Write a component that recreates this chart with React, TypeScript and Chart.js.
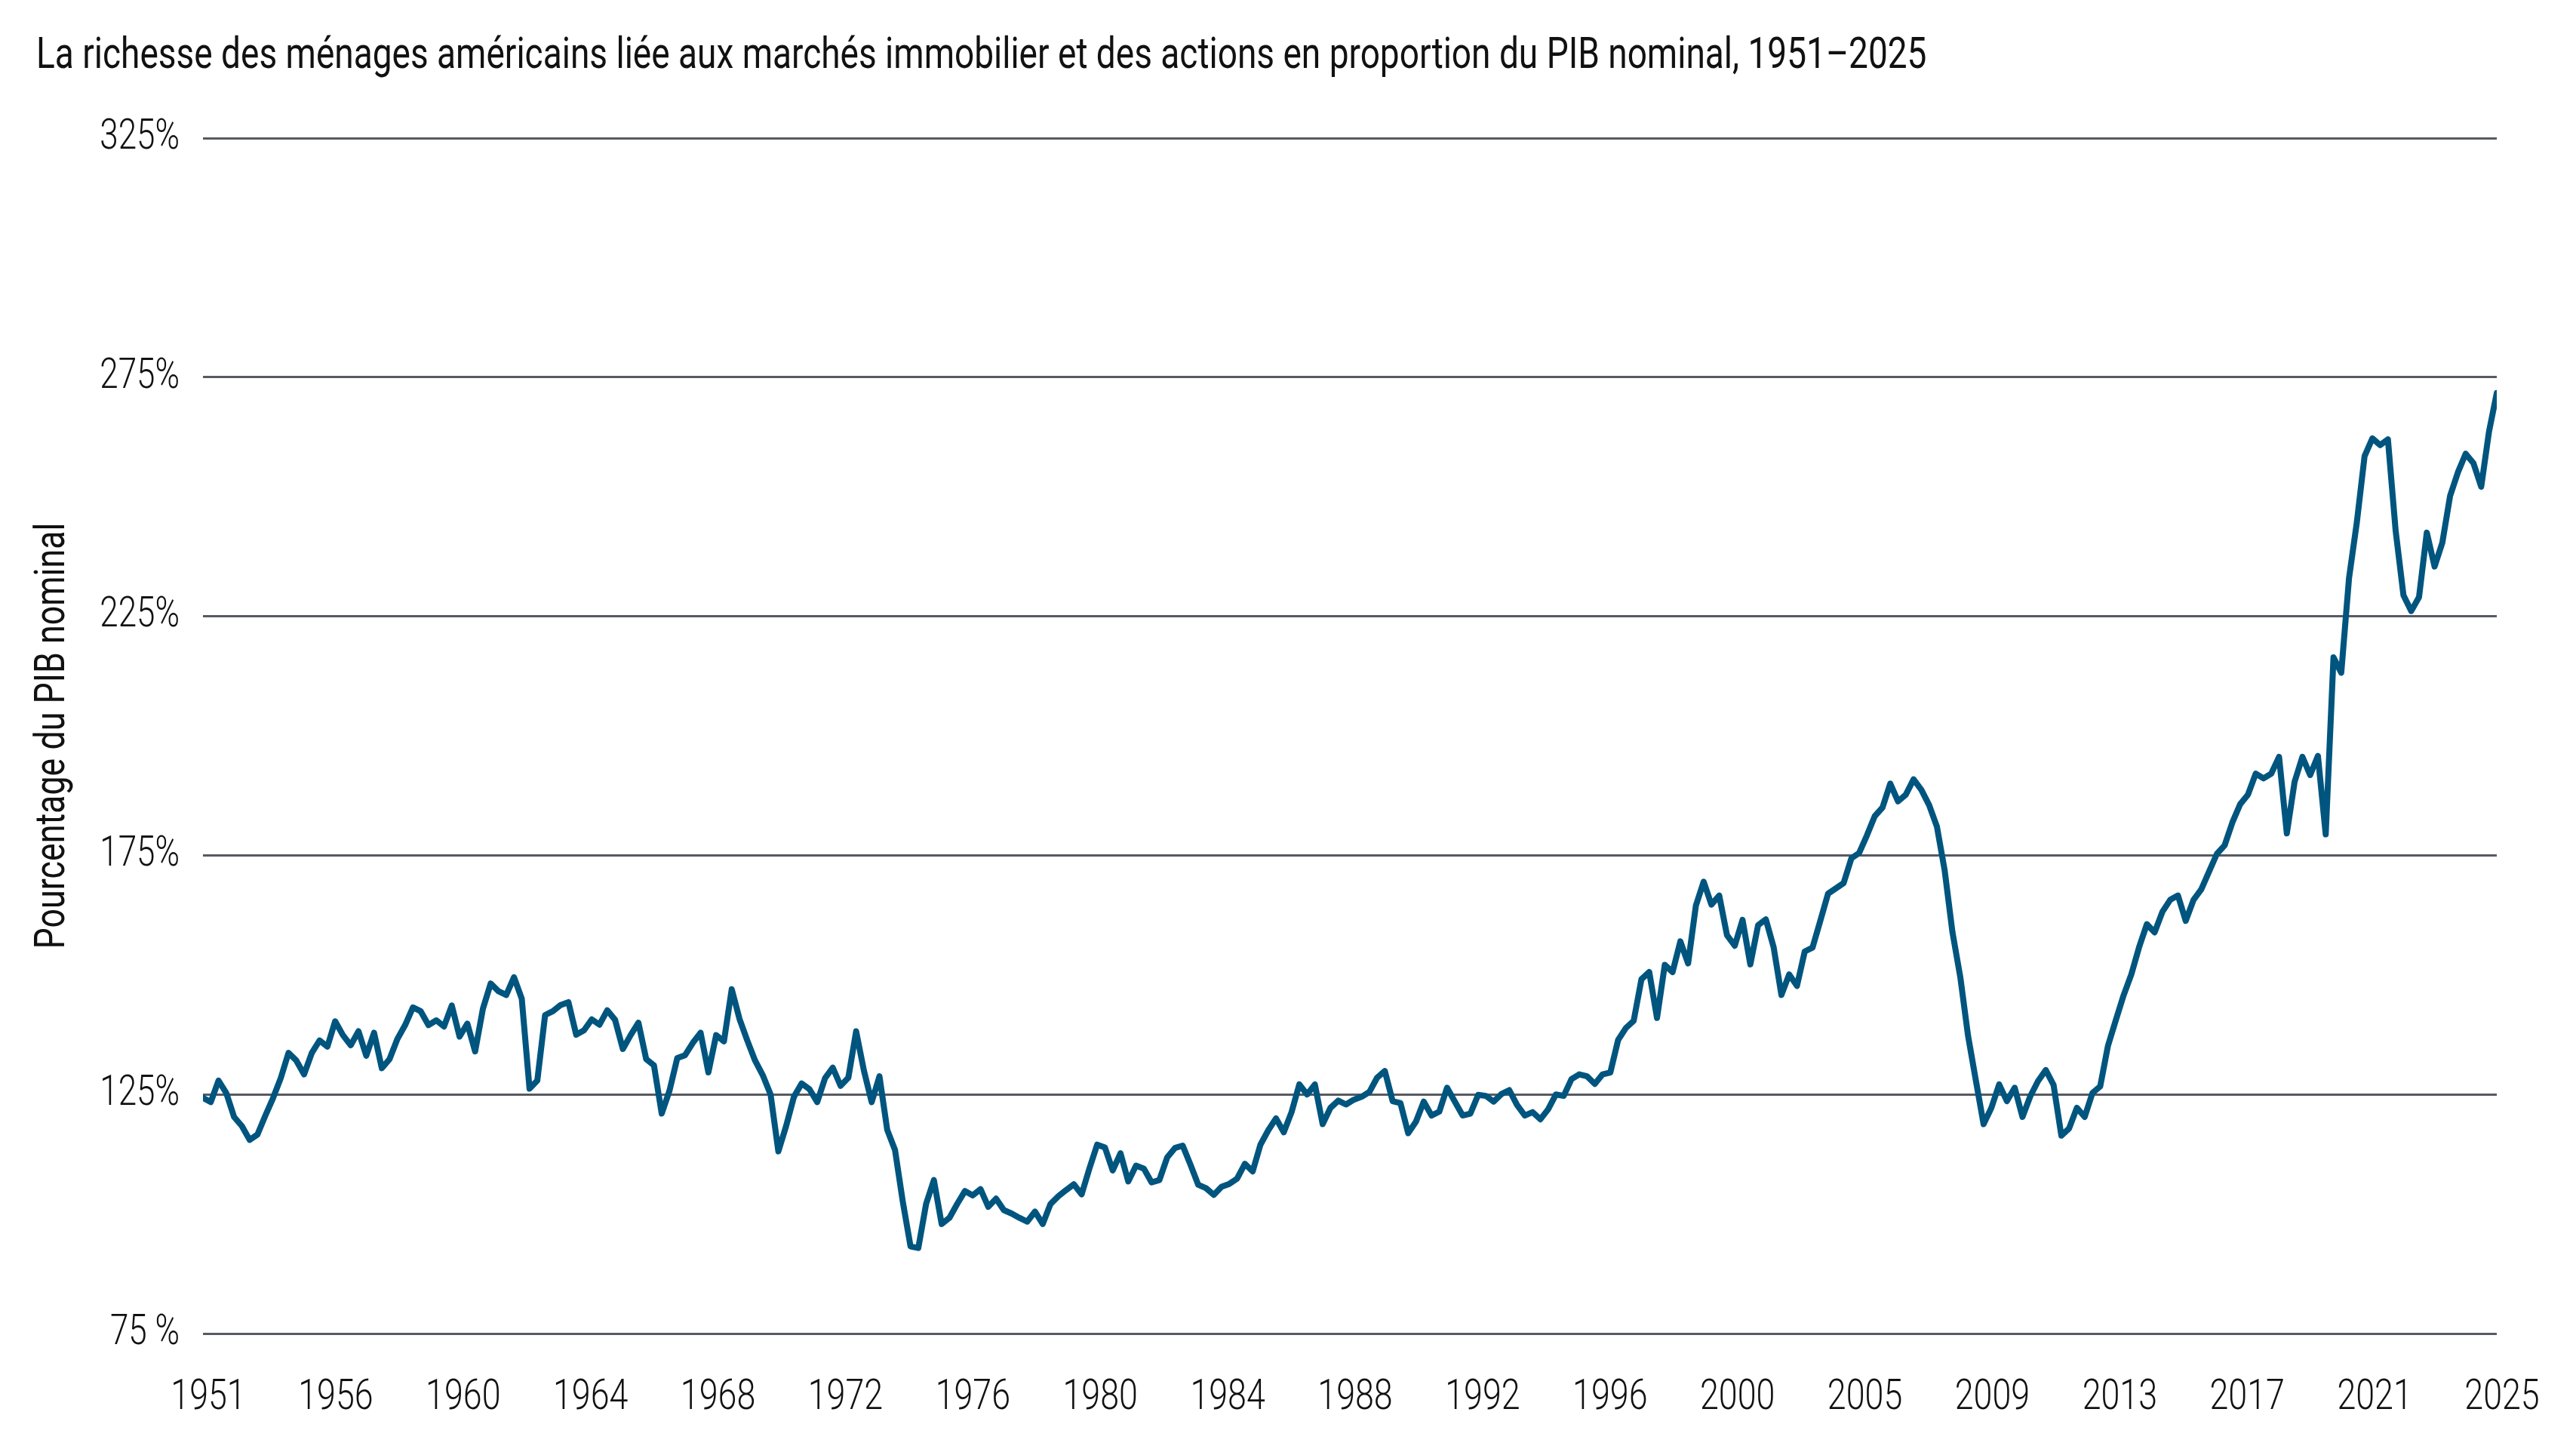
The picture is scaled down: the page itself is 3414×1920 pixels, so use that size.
import React, { useEffect, useRef } from 'react';
import { Chart, registerables } from 'chart.js';

Chart.register(...registerables);

const TITLE =
  'La richesse des ménages américains liée aux marchés immobilier et des actions en proportion du PIB nominal, 1951–2025';
const Y_TITLE = 'Pourcentage du PIB nominal';

const xTickLabels = [
  '1951', '1956', '1960', '1964', '1968', '1972', '1976', '1980', '1984', '1988',
  '1992', '1996', '2000', '2005', '2009', '2013', '2017', '2021', '2025',
];

const yTickLabels = ['75 %', '125%', '175%', '225%', '275%', '325%'];

const wealth1951to1970 = [
  124.3, 123.4, 127.9, 125.3, 120.3, 118.4, 115.5, 116.6, 120.5, 124.2,
  128.4, 133.7, 132.1, 129.2, 133.7, 136.3, 135.0, 140.3, 137.4, 135.3,
  138.2, 133.1, 137.9, 130.5, 132.4, 136.6, 139.5, 143.2, 142.4, 139.5,
  140.5, 139.2, 143.6, 137.1, 139.8, 134.0, 142.9, 148.2, 146.6, 145.8,
  149.5, 145.0, 126.2, 127.9, 141.6, 142.4, 143.7, 144.3, 137.5, 138.4,
  140.7, 139.6, 142.6, 140.6, 134.5, 137.4, 140.0, 132.4, 131.1, 121.0,
  125.8, 132.6, 133.2, 135.8, 137.9, 129.6, 137.4, 136.1, 147.0, 140.8,
  136.3, 132.1, 129.0, 125.0, 113.1, 118.4,
];

const wealth1970to1988 = [
  124.5, 127.3, 126.1, 123.4, 128.4, 130.6, 126.8, 128.5, 138.2, 130.0,
  123.4, 128.8, 117.6, 113.4, 102.6, 93.2, 92.9, 102.1, 107.1, 97.9,
  99.2, 102.1, 104.8, 103.9, 105.2, 101.5, 103.2, 100.8, 100.1, 99.2,
  98.4, 100.5, 97.9, 102.1, 103.7, 105.0, 106.2, 104.1, 109.5, 114.5,
  113.9, 109.1, 112.7, 106.8, 110.1, 109.5, 106.6, 107.1, 111.8, 113.8,
  114.3, 110.3, 106.1, 105.4, 104.0, 105.7, 106.3, 107.4, 110.5, 108.9,
  114.5, 117.5, 120.0, 117.1, 121.3, 127.1, 125.0, 127.1, 118.8, 122.2,
  123.7, 122.9, 123.9, 124.5, 125.5, 128.5,
];

const wealth1988to2008 = [
  129.9, 123.6, 123.2, 116.9, 119.3, 123.5, 120.6, 121.4, 126.4, 123.5,
  120.6, 121.0, 124.9, 124.7, 123.5, 125.1, 125.9, 122.8, 120.6, 121.3,
  119.8, 121.9, 125.0, 124.7, 128.2, 129.2, 128.8, 127.2, 129.2, 129.6,
  136.4, 138.9, 140.4, 149.1, 150.6, 141.0, 152.1, 150.6, 157.0, 152.4,
  164.5, 169.5, 164.7, 166.6, 158.3, 156.1, 161.5, 152.2, 160.4, 161.6,
  155.8, 145.8, 150.1, 147.7, 154.9, 155.7, 161.3, 167.0, 168.1, 169.2,
  174.4, 175.5, 179.2, 183.2, 185.0, 190.0, 186.3, 187.7, 190.9, 188.7,
  185.5, 181.0, 171.8, 158.9, 149.6, 137.3,
];

const wealth2008to2017 = [
  128.0, 118.8, 122.2, 127.1, 123.6, 126.4, 120.3, 124.6, 127.8, 130.1,
  127.0, 116.4, 117.9, 122.2, 120.3, 125.3, 126.7, 135.2, 140.5, 145.7,
  150.1, 155.8, 160.6, 158.9, 163.2, 165.7, 166.6, 161.3, 165.7, 167.9,
  171.6, 175.3, 177.1, 181.9, 185.7, 187.7, 192.1,
];

const wealth2017to2025 = [
  191.1, 192.1, 195.6, 179.6, 190.4, 195.6, 191.8, 195.8, 179.4, 216.4,
  213.2, 233.0, 244.6, 258.5, 262.2, 260.8, 262.0, 242.8, 229.4, 226.1,
  229.0, 242.5, 235.4, 240.4, 250.2, 255.1, 259.0, 257.0, 252.1, 263.6,
  271.7,
];

const wealthPctGdp = [
  ...wealth1951to1970,
  ...wealth1970to1988,
  ...wealth1988to2008,
  ...wealth2008to2017,
  ...wealth2017to2025,
];

const FONT = "Roboto, 'Noto Sans', sans-serif";
const TEXT = '#111111';
// horizontal squeeze applied to every glyph run (the reference uses a condensed face)
const CONDENSE = 0.8;

function condenseText(ctx: CanvasRenderingContext2D) {
  const anyCtx = ctx as any;
  if (anyCtx.__condensed) return;
  anyCtx.__condensed = true;
  const origFill = ctx.fillText.bind(ctx);
  const origMeasure = ctx.measureText.bind(ctx);
  ctx.fillText = (text: string, x: number, y: number, maxWidth?: number) => {
    ctx.save();
    ctx.translate(x, y);
    ctx.scale(CONDENSE, 1);
    if (maxWidth !== undefined) origFill(text, 0, 0, maxWidth / CONDENSE);
    else origFill(text, 0, 0);
    ctx.restore();
  };
  ctx.measureText = (text: string) => {
    const m = origMeasure(text);
    return {
      width: m.width * CONDENSE,
      actualBoundingBoxAscent: m.actualBoundingBoxAscent,
      actualBoundingBoxDescent: m.actualBoundingBoxDescent,
      actualBoundingBoxLeft: m.actualBoundingBoxLeft * CONDENSE,
      actualBoundingBoxRight: m.actualBoundingBoxRight * CONDENSE,
      fontBoundingBoxAscent: m.fontBoundingBoxAscent,
      fontBoundingBoxDescent: m.fontBoundingBoxDescent,
    } as TextMetrics;
  };
}

export default function App() {
  const canvasRef = useRef<HTMLCanvasElement>(null);

  useEffect(() => {
    const canvas = canvasRef.current;
    if (!canvas) return;
    const ctx = canvas.getContext('2d');
    if (ctx) condenseText(ctx);
    const last = wealthPctGdp.length - 1;
    const chart = new Chart(canvas, {
      type: 'line',
      data: {
        datasets: [
          {
            data: wealthPctGdp.map((v, i) => ({ x: i, y: v })),
            borderColor: '#00557f',
            backgroundColor: '#00557f',
            borderWidth: 8,
            pointRadius: 0,
            tension: 0,
            borderJoinStyle: 'round',
            borderCapStyle: 'round',
          },
        ],
      },
      options: {
        animation: false,
        responsive: true,
        maintainAspectRatio: false,
        devicePixelRatio: 1,
        layout: { padding: { left: 48, right: 105, top: 0, bottom: 0 } },
        plugins: {
          legend: { display: false },
          tooltip: { enabled: false },
          title: {
            display: true,
            text: TITLE,
            align: 'start',
            color: TEXT,
            font: { family: FONT, size: 57.5, weight: 'normal', lineHeight: 1.2 },
            padding: { top: 41, bottom: 73 },
          },
        },
        scales: {
          x: {
            type: 'linear',
            min: 0,
            max: last,
            grid: { display: false, drawTicks: false },
            border: { display: false },
            afterBuildTicks: (scale: any) => {
              scale.ticks = xTickLabels.map((_, k) => ({
                value: (k * last) / (xTickLabels.length - 1),
              }));
            },
            afterFit: (scale: any) => {
              scale.height = 153;
            },
            ticks: {
              autoSkip: false,
              maxRotation: 0,
              minRotation: 0,
              padding: 52,
              labelOffset: 7,
              color: TEXT,
              font: { family: FONT, size: 56, weight: '300' },
              callback: (_v: any, i: number) => xTickLabels[i],
            },
          },
          y: {
            min: 75,
            max: 325,
            grid: { color: '#575a61', lineWidth: 3, drawTicks: false },
            border: { display: false },
            afterFit: (scale: any) => {
              scale.width = 221;
            },
            ticks: {
              stepSize: 50,
              padding: 31,
              color: TEXT,
              font: { family: FONT, size: 55, weight: '300' },
              callback: (_v: any, i: number) => yTickLabels[i],
            },
            title: {
              display: true,
              text: Y_TITLE,
              color: TEXT,
              font: { family: FONT, size: 56, weight: 'normal', lineHeight: 0.5 },
              padding: { top: 9, bottom: 0 },
            },
          },
        },
      },
    });
    return () => chart.destroy();
  }, []);

  return (
    <div
      style={{
        position: 'fixed',
        left: 0,
        top: 0,
        width: 3414,
        height: 1920,
        background: '#ffffff',
      }}
    >
      <canvas ref={canvasRef} />
    </div>
  );
}
